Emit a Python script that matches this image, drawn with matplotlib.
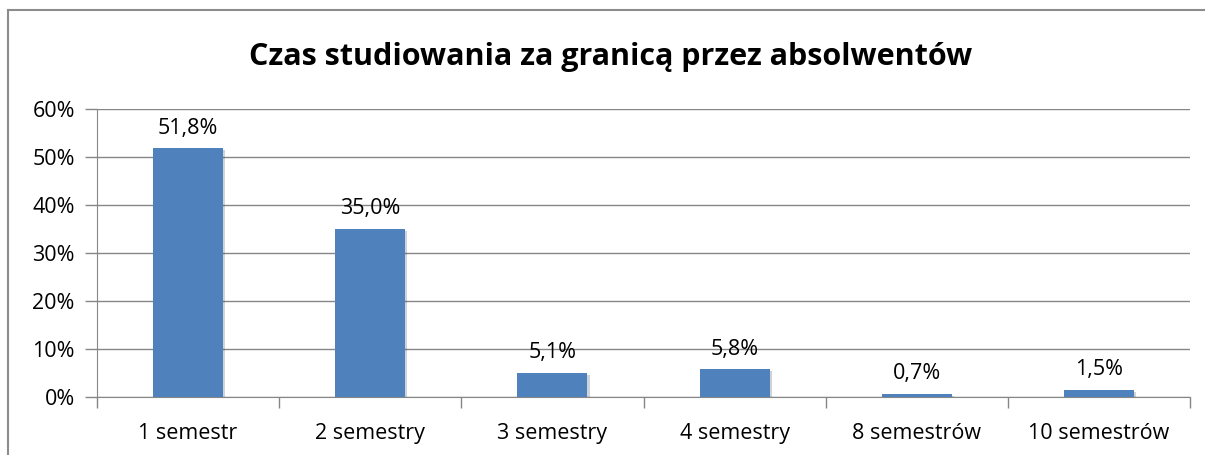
import matplotlib.pyplot as plt
from matplotlib.lines import Line2D
from matplotlib.ticker import FuncFormatter
import matplotlib.patheffects as pe

categories = ['1 semestr', '2 semestry', '3 semestry', '4 semestry', '8 semestrów', '10 semestrów']
values = [51.8, 35.0, 5.1, 5.8, 0.7, 1.5]
labels = ['51,8%', '35,0%', '5,1%', '5,8%', '0,7%', '1,5%']
yticks = [0, 10, 20, 30, 40, 50, 60]

plt.rcParams['font.family'] = ['Open Sans', 'DejaVu Sans']

W, H = 1205, 455
fig = plt.figure(figsize=(W / 100, H / 100), dpi=100)

# ramka wykresu (widoczna tylko z lewej i u gory)
fig.add_artist(Line2D([8 / W, 8 / W], [0, 1 - 10 / H], color='#8c8c8c', lw=1.5))
fig.add_artist(Line2D([8 / W, 1], [1 - 10 / H, 1 - 10 / H], color='#8c8c8c', lw=1.5))

ax = fig.add_axes([97 / W, (H - 397) / H, 1093 / W, (397 - 109) / H])
x = range(len(categories))
bars = ax.bar(x, values, width=0.385, color='#4F81BD', zorder=3,
              path_effects=[pe.SimplePatchShadow(offset=(1.5, -1.5), alpha=0.2), pe.Normal()])

for xi, v, lab in zip(x, values, labels):
    ax.text(xi, v + 2.0, lab, ha='center', va='bottom', fontsize=15.5)

ax.set_xlim(-0.5, len(categories) - 0.5)
ax.set_ylim(0, 60)
ax.set_yticks(yticks)
ax.yaxis.set_major_formatter(FuncFormatter(lambda v, p: f'{v:.0f}%'))
ax.grid(axis='y', color='#868686', lw=1, zorder=0)
ax.set_xticks(x)
ax.set_xticklabels(categories, fontsize=15.5)
ax.tick_params(axis='x', length=0, pad=19)
ax.set_xticks([i - 0.5 for i in range(len(categories) + 1)], minor=True)
ax.tick_params(axis='x', which='minor', length=8, color='#868686', width=1)
ax.tick_params(axis='y', length=9, color='#868686', width=1, labelsize=15.5, pad=7)

for s in ['top', 'right']:
    ax.spines[s].set_visible(False)
ax.spines['left'].set_color('#868686')
ax.spines['bottom'].set_color('#868686')

fig.text(611 / W, 1 - 57 / H, 'Czas studiowania za granicą przez absolwentów',
         ha='center', va='center', fontsize=22, fontweight='bold')

fig.savefig('out.png', dpi=100)
